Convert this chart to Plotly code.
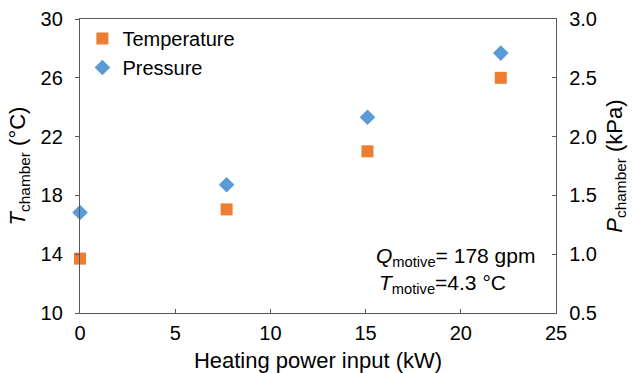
import plotly.graph_objects as go

power_kw = [0, 7.7, 15.1, 22.1]
temperature_c = [13.7, 17.05, 21.0, 26.0]
pressure_kpa = [1.355, 1.59, 2.165, 2.71]

x_ticks = [0, 5, 10, 15, 20, 25]
t_ticks = [10, 14, 18, 22, 26, 30]
p_ticks = [0.5, 1.0, 1.5, 2.0, 2.5, 3.0]

FONT = "Liberation Sans, Arial, sans-serif"
AX = "#595959"


def f(size):
    return dict(family=FONT, size=size, color="black")


fig = go.Figure()
fig.add_trace(go.Scatter(x=power_kw, y=temperature_c, mode="markers", name="Temperature",
                         cliponaxis=False,
                         marker=dict(symbol="square", size=12, color="#ED7D31"), yaxis="y"))
fig.add_trace(go.Scatter(x=power_kw, y=pressure_kpa, mode="markers", name="Pressure",
                         cliponaxis=False,
                         marker=dict(symbol="diamond", size=12, color="#5B9BD5"), yaxis="y2"))

fig.update_layout(
    width=632, height=373,
    margin=dict(l=80, r=76, t=19, b=60),
    paper_bgcolor="white", plot_bgcolor="white",
    font=f(18),
    showlegend=True,
    legend=dict(x=0.005, y=1.0, xanchor="left", yanchor="top", bgcolor="rgba(0,0,0,0)",
                font=f(20), itemwidth=30, tracegroupgap=0),
    xaxis=dict(range=[0, 25], tickvals=x_ticks, showgrid=False, zeroline=False, automargin=False,
               showline=True, linecolor=AX, linewidth=1.3, mirror=True,
               ticks="inside", ticklen=4, tickcolor=AX, ticklabelstandoff=2,
               title=dict(text="Heating power input (kW)", standoff=13, font=f(22)),
               tickfont=f(20)),
    yaxis=dict(range=[10, 30], tickvals=t_ticks, showgrid=False, zeroline=False, automargin=False,
               showline=True, linecolor=AX, linewidth=1.3,
               ticks="outside", ticklen=4, tickcolor=AX, ticklabelstandoff=8,
               title=dict(text="<i>T</i><sub>chamber</sub> (°C)", standoff=8, font=f(22)),
               tickfont=f(20)),
    yaxis2=dict(range=[0.5, 3.0], tickvals=p_ticks, tickformat=".1f", overlaying="y", side="right",
                automargin=False,
                showgrid=False, zeroline=False, showline=True, linecolor=AX, linewidth=1.3,
                ticks="inside", ticklen=4, tickcolor=AX, ticklabelstandoff=8,
                title=dict(text="<i>P</i><sub>chamber</sub> (kPa)", standoff=10, font=f(22)),
                tickfont=f(20)),
)

fig.add_annotation(xref="paper", yref="paper", x=0.96, y=0.19, xanchor="right", yanchor="middle",
                   text="<i>Q</i><sub>motive</sub>= 178 gpm", showarrow=False, font=f(21))
fig.add_annotation(xref="paper", yref="paper", x=0.899, y=0.1, xanchor="right", yanchor="middle",
                   text="<i>T</i><sub>motive</sub>=4.3 °C", showarrow=False, font=f(21))

fig.write_html("out.html")
